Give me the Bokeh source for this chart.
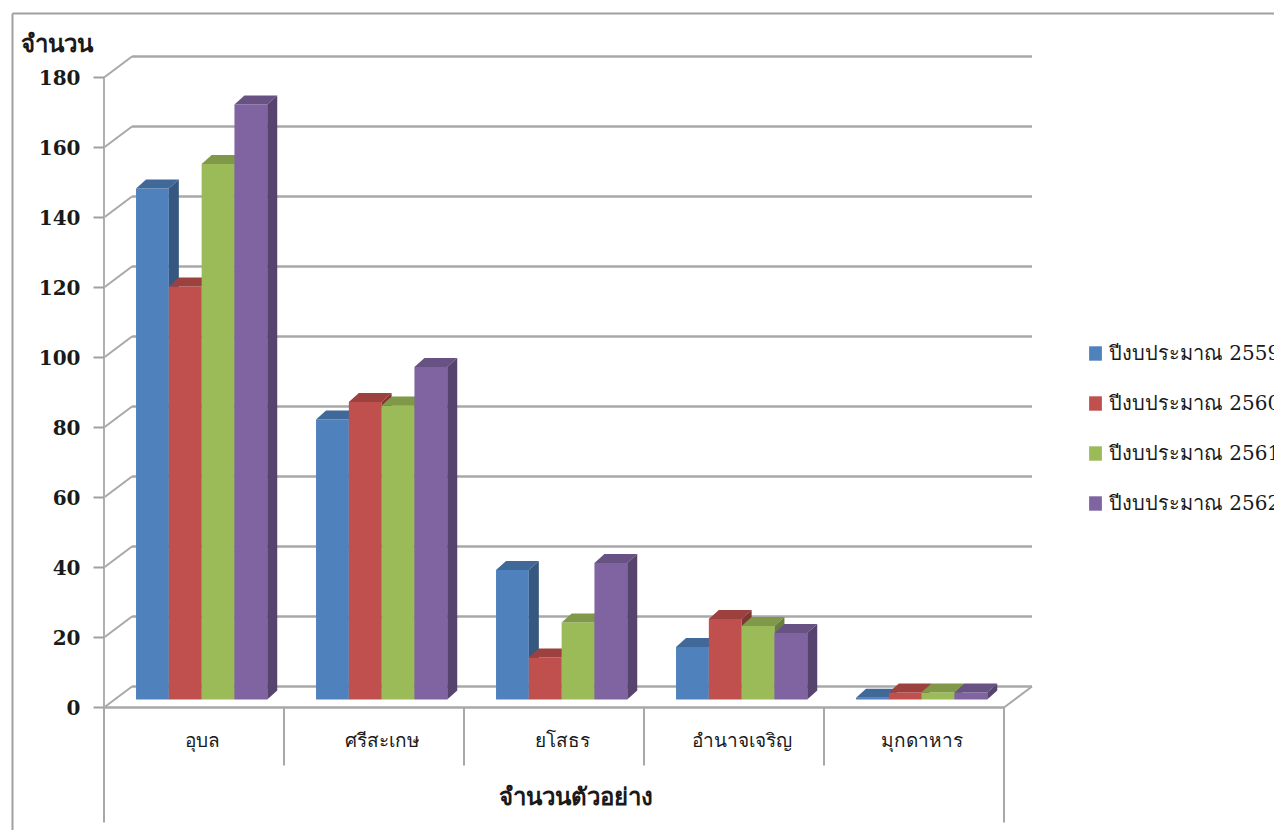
from bokeh.plotting import figure
from bokeh.models import Range1d, Legend, LegendItem
from bokeh.core.properties import value
from bokeh.embed import file_html
from bokeh.resources import INLINE

# ---------------- data ----------------
categories = ["อุบล", "ศรีสะเกษ", "ยโสธร", "อำนาจเจริญ", "มุกดาหาร"]
series_names = ["ปีงบประมาณ 2559", "ปีงบประมาณ 2560", "ปีงบประมาณ 2561", "ปีงบประมาณ 2562"]
v2559 = [146, 80, 37, 15, 0.5]
v2560 = [118, 85, 12, 23, 2]
v2561 = [153, 84, 22, 21, 2]
v2562 = [170, 95, 39, 19, 2]
y_ticks = [0, 20, 40, 60, 80, 100, 120, 140, 160, 180]
y_tick_labels = ["0", "20", "40", "60", "80", "100", "120", "140", "160", "180"]
y_title = "จำนวน"
x_title = "จำนวนตัวอย่าง"
colors = ["#4F81BD", "#C0504D", "#9BBB59", "#8064A2"]

series_values = [v2559, v2560, v2561, v2562]

# ---------------- layout constants (pixels) ----------------
W, H = 1274, 830
X0, PXC = 103.5, 180.0      # pixel x of category 0, pixels per category
Y0, PXV = 707.0, 3.5        # pixel y of value 0, pixels per value unit


def X(px):
    return (px - X0) / PXC


def Y(py):
    return (Y0 - py) / PXV


def DX(px):
    return px / PXC


def DY(px):
    return px / PXV


def shade(hex_color, f):
    h = hex_color.lstrip("#")
    r, g, b = (int(h[i:i + 2], 16) for i in (0, 2, 4))
    return "#%02x%02x%02x" % (int(r * f), int(g * f), int(b * f))


n_cat = len(categories)
WALL_DX, WALL_DY = DX(28), DY(21)
GRID_RIGHT = n_cat + WALL_DX
GRID_COLOR = "#a8a8a8"
TXT = "#1a1a1a"

p = figure(width=W, height=H, x_range=Range1d(X(0), X(W)), y_range=Range1d(Y(H), Y(0)),
           output_backend="svg", toolbar_location=None, x_axis_type=None, y_axis_type=None,
           min_border=0, min_border_left=0, min_border_right=0, min_border_top=0,
           min_border_bottom=0, outline_line_color=None)
p.background_fill_color = "white"
p.border_fill_color = "white"

# chart area border (top and left visible)
p.line([X(12), X(W + 5)], [Y(13), Y(13)], line_color="#a0a0a0", line_width=2)
p.line([X(12), X(12)], [Y(13), Y(H + 5)], line_color="#a0a0a0", line_width=2)

# back wall gridlines and left wall diagonals
ymax = y_ticks[-1]
p.multi_line(xs=[[WALL_DX, GRID_RIGHT] for t in y_ticks],
             ys=[[t + WALL_DY, t + WALL_DY] for t in y_ticks],
             line_color=GRID_COLOR, line_width=2.5)
p.multi_line(xs=[[0, WALL_DX] for t in y_ticks],
             ys=[[t, t + WALL_DY] for t in y_ticks],
             line_color=GRID_COLOR, line_width=2)

# floor: front edge and right edge
p.line([0, n_cat], [0, 0], line_color=GRID_COLOR, line_width=2.5)
p.line([n_cat, GRID_RIGHT], [0, WALL_DY], line_color=GRID_COLOR, line_width=2)

# vertical value axis, ticks and labels
p.line([0, 0], [0, ymax], line_color="#b0b0b0", line_width=2)
p.multi_line(xs=[[X(93), 0] for t in y_ticks], ys=[[t, t] for t in y_ticks],
             line_color="#a0a0a0", line_width=2)
p.text(x=[X(80)] * len(y_ticks), y=y_ticks, text=y_tick_labels,
       text_font=value("DejaVu Serif"), text_font_style="bold", text_font_size="20px",
       text_align="right", text_baseline="middle", text_color=TXT)
p.text(x=[X(20)], y=[Y(42)], text=[y_title], text_font=value("Noto Sans"),
       text_font_style="bold", text_font_size="24px", text_align="left",
       text_baseline="middle", text_color=TXT)

# category axis dividers and labels
inner = list(range(1, n_cat))
p.multi_line(xs=[[k, k] for k in inner], ys=[[0, Y(765)] for k in inner],
             line_color=GRID_COLOR, line_width=2)
p.multi_line(xs=[[0, 0], [n_cat, n_cat]], ys=[[0, Y(822)], [0, Y(822)]],
             line_color=GRID_COLOR, line_width=2)
p.text(x=[i + 0.5 + DX(8) for i in range(n_cat)], y=[Y(739)] * n_cat, text=categories,
       text_font=value("Noto Sans"), text_font_size="19px", text_align="center",
       text_baseline="middle", text_color=TXT)
p.text(x=[X(575)], y=[Y(795)], text=[x_title], text_font=value("Noto Sans"),
       text_font_style="bold", text_font_size="24px", text_align="center",
       text_baseline="middle", text_color=TXT)

# 3D-looking columns
BASE = DY(8)                  # bars stand at mid depth
BAR_W = DX(32.8)
GROUP_OFF = 0.178
DEPTH_X, DEPTH_Y = DX(10), DY(9)
legend_items = []
for s, (vals, col, name) in enumerate(zip(series_values, colors, series_names)):
    lefts = [i + GROUP_OFF + s * BAR_W for i in range(n_cat)]
    rights = [l + BAR_W for l in lefts]
    tops = [BASE + v for v in vals]
    front = p.quad(left=lefts, right=rights, bottom=[BASE] * n_cat, top=tops,
                   fill_color=col, line_color=None)
    p.patches(xs=[[l, l + DEPTH_X, r + DEPTH_X, r] for l, r in zip(lefts, rights)],
              ys=[[t, t + DEPTH_Y, t + DEPTH_Y, t] for t in tops],
              fill_color=shade(col, 0.82), line_color=None)
    p.patches(xs=[[r, r + DEPTH_X, r + DEPTH_X, r] for r in rights],
              ys=[[BASE, BASE + DEPTH_Y, t + DEPTH_Y, t] for t in tops],
              fill_color=shade(col, 0.68), line_color=None)
    legend_items.append(LegendItem(label=name, renderers=[front]))

legend = Legend(items=legend_items, location=(1087, H - 519), orientation="vertical",
                glyph_width=16, glyph_height=18, label_height=18, spacing=18,
                padding=0, margin=0, label_standoff=6,
                label_text_font="DejaVu Serif", label_text_font_size="20px",
                label_text_color=TXT, border_line_alpha=0, background_fill_alpha=0)
p.add_layout(legend)

open("out.html", "w").write(file_html(p, INLINE))
